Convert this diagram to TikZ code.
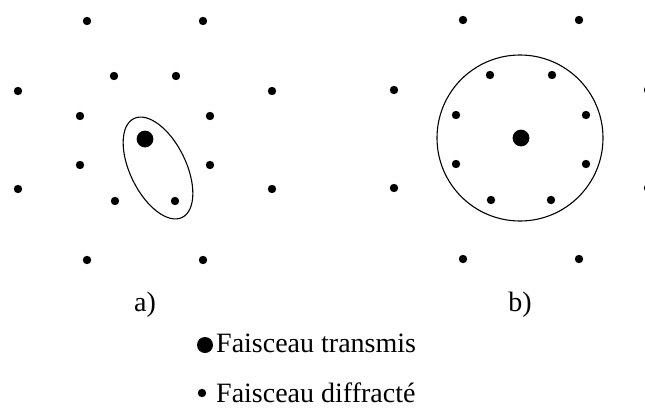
\documentclass[tikz,border=0pt]{standalone}
\usepackage{fontspec}
\setmainfont{Liberation Serif}
\begin{document}
\begin{tikzpicture}[x=1pt, y=-1pt, line join=round, line cap=round, font=\fontsize{28}{34}\selectfont]
	% Cadre de l'image
	\useasboundingbox (0,0) rectangle (645,410);
	
	% Rayons des taches
	\def\rp{4.2}   % tache diffractee
	\def\rg{8.4}   % tache transmise
	
	% Centres des deux cliches
	\coordinate (Ca) at (145,139);
	\coordinate (Cb) at (521,138);
	
	% Taches diffractees (reseau symetrique autour du centre)
	\foreach \c in {Ca,Cb}{
		\foreach \dx/\dy in {58/-118, 31/-63, 127/-48, 65/-23, 65/26, 127/50, 30/62, 58/121}{
			\fill ([shift={(\dx,\dy)}]\c) circle (\rp);
			\fill ([shift={(-\dx,\dy)}]\c) circle (\rp);
		}
	}
	
	% Taches transmises
	\fill (Ca) circle (\rg);
	\fill (Cb) circle (\rg);
	
	% Ellipse en a) et cercle en b)
	\coordinate (E) at (158,168);
	\coordinate (O) at (520,138);
	\draw[line width=1.1pt] (E) ellipse [x radius=55, y radius=28, rotate=-64];
	\draw[line width=1.1pt] (O) circle (83);
	
	% Legendes des cliches
	\node (la) at (145,305) {a)};
	\node (lb) at (520,305) {b)};
	
	% Legende des taches
	\coordinate (T) at (205,345);
	\coordinate (D) at (202,393);
	\fill (T) circle (8);
	\fill (D) circle (\rp);
	\node[anchor=base west, inner sep=0pt] (lt) at (216,352) {Faisceau transmis};
	\node[anchor=base west, inner sep=0pt] (ld) at (216,402) {Faisceau diffracté};
\end{tikzpicture}
\end{document}
